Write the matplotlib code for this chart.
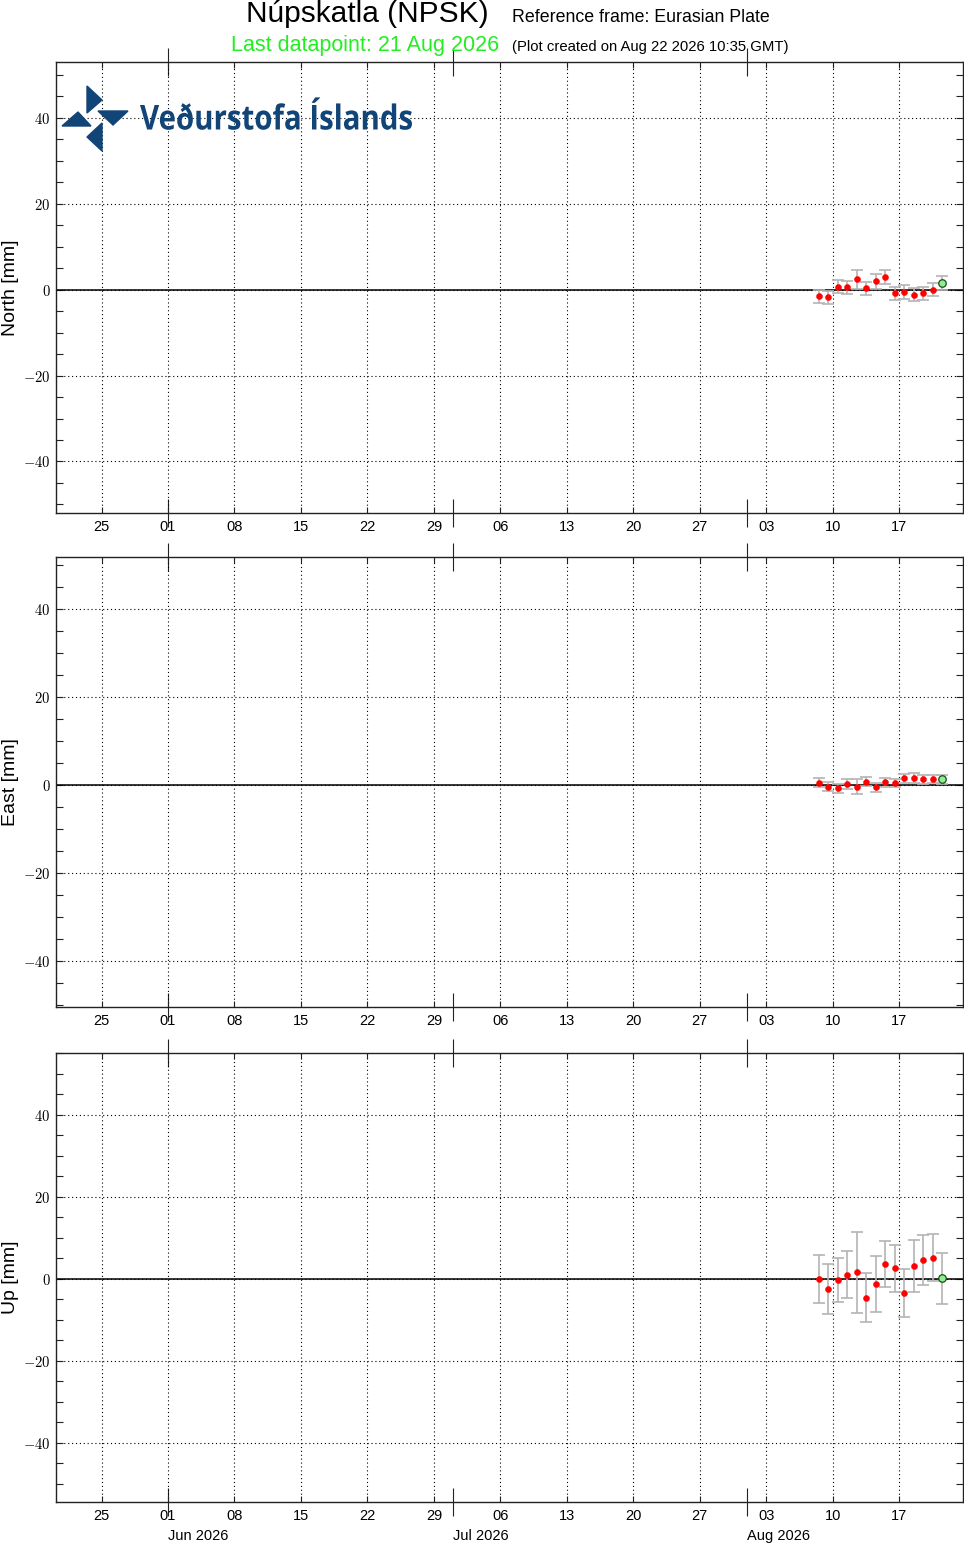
import matplotlib
matplotlib.use("Agg")
import matplotlib.pyplot as plt
import matplotlib.dates as mdates
from matplotlib.patches import Polygon, PathPatch
from matplotlib.textpath import TextPath
from matplotlib.font_manager import FontProperties
from matplotlib.transforms import Affine2D
from matplotlib.ticker import MultipleLocator, FuncFormatter
from datetime import datetime

plt.rcParams['mathtext.fontset'] = 'cm'
plt.rcParams['font.family'] = ['Liberation Sans', 'DejaVu Sans']

# ---- data ----
dates = [datetime(2026, 8, d, 12) for d in range(8, 22)]
north = [-1.5, -1.8, 0.7, 0.6, 2.4, 0.3, 1.9, 2.9, -0.85, -0.55, -1.15, -0.8, 0.0, 1.6]
north_err = [1.5, 1.6, 1.5, 1.5, 2.2, 1.5, 1.8, 1.6, 1.5, 1.6, 1.6, 1.5, 1.5, 1.6]
east = [0.45, -0.4, -0.75, 0.25, -0.45, 0.7, -0.6, 0.55, 0.4, 1.45, 1.6, 1.3, 1.35, 1.3]
east_err = [1.0, 1.0, 1.0, 1.1, 1.7, 1.0, 1.1, 1.1, 1.0, 1.1, 1.1, 1.0, 1.0, 1.0]
up = [0.0, -2.4, -0.25, 1.05, 1.6, -4.6, -1.2, 3.65, 2.6, -3.4, 3.2, 4.55, 5.2, 0.15]
up_err = [5.9, 6.1, 5.4, 5.8, 9.8, 6.0, 6.8, 5.7, 5.7, 5.8, 6.3, 6.1, 5.7, 6.2]

labels = ["North [mm]", "East [mm]", "Up [mm]"]
ylims = [(-52, 53), (-50.5, 51.8), (-54.4, 55.1)]
month_labels = [(datetime(2026, 6, 1), "Jun 2026"), (datetime(2026, 7, 1), "Jul 2026"),
                (datetime(2026, 8, 1), "Aug 2026")]
xlim = (datetime(2026, 5, 20, 5), datetime(2026, 8, 23, 17))

W, H = 964, 1546
fig = plt.figure(figsize=(W / 100, H / 100), dpi=100)

def fx(px):
    return px / W

def fy(py):
    return 1 - py / H

panels = [(62, 513), (557, 1007), (1053, 1502)]
series = [(north, north_err), (east, east_err), (up, up_err)]
dotted = (0, (1, 2.5))
ecol = '#b4b4b4'

for i, ((top, bot), (vals, errs)) in enumerate(zip(panels, series)):
    ax = fig.add_axes([fx(56), fy(bot), fx(963) - fx(56), fy(top) - fy(bot)])
    ax.set_xlim(*xlim)
    ax.set_ylim(*ylims[i])
    ax.axhline(0, color='black', lw=1.1, zorder=2)
    ax.errorbar(dates[:-1], vals[:-1], yerr=errs[:-1], fmt='none',
                ecolor=ecol, elinewidth=1.2, capsize=4, capthick=1.2, zorder=3)
    ax.plot(dates[:-1], vals[:-1], 'o', color='red', ms=4.4, mec='red', mew=0.3, zorder=4)
    ax.errorbar(dates[-1:], vals[-1:], yerr=errs[-1:], fmt='none',
                ecolor=ecol, elinewidth=1.2, capsize=4, capthick=1.2, zorder=3)
    ax.plot(dates[-1:], vals[-1:], 'o', mfc='#90ee90', mec='#1a4a1a', ms=5.4, mew=0.9, zorder=5)

    ax.xaxis.set_major_locator(mdates.MonthLocator())
    ax.xaxis.set_major_formatter(FuncFormatter(lambda x, p: ""))
    ax.xaxis.set_minor_locator(mdates.WeekdayLocator(byweekday=mdates.MO))
    ax.xaxis.set_minor_formatter(mdates.DateFormatter('%d'))
    ax.xaxis.remove_overlapping_locs = False
    ax.tick_params(axis='x', which='major', direction='inout', length=20, width=0.8,
                   top=True, bottom=True, color='#222222')
    ax.tick_params(axis='x', which='minor', direction='in', length=4, width=0.8,
                   top=True, bottom=True, labelsize=10.5, pad=5, color='#222222')
    ax.yaxis.set_major_locator(MultipleLocator(20))
    ax.yaxis.set_minor_locator(MultipleLocator(5))
    ax.yaxis.set_major_formatter(FuncFormatter(lambda v, p: r'$%d$' % v))
    ax.tick_params(axis='y', which='both', direction='in', left=True, right=True,
                   length=5, width=0.8, labelsize=10.5, pad=4, color='#222222')
    ax.grid(which='minor', axis='x', color='black', lw=0.8, linestyle=dotted)
    ax.grid(which='major', axis='y', color='black', lw=0.8, linestyle=dotted)
    ax.grid(which='major', axis='x', visible=False)
    for s in ax.spines.values():
        s.set_color('#222222')
        s.set_linewidth(1.0)
    ax.set_ylabel(labels[i], fontsize=14)
    ax.yaxis.set_label_coords(-0.041, 0.5)

    if i == 2:
        for d, lab in month_labels:
            ax.text(mdates.date2num(d), -0.076, lab, transform=ax.get_xaxis_transform(),
                    ha='left', va='center', fontsize=10.5)

# ---- titles ----
fig.text(fx(367), fy(14), "Núpskatla (NPSK)", ha='center', va='center', fontsize=21.5)
fig.text(fx(512), fy(17), "Reference frame: Eurasian Plate", ha='left', va='center', fontsize=12.8)
fig.text(fx(365), fy(45), "Last datapoint: 21 Aug 2026", ha='center', va='center',
         fontsize=15.5, color='#22ee22')
fig.text(fx(512), fy(47), "(Plot created on Aug 22 2026 10:35 GMT)", ha='left', va='center',
         fontsize=10.7)

# ---- logo ----
logo_col = '#114477'
tris = [[(87, 86), (87, 113), (102, 100)],
        [(98, 111), (128, 111), (113, 125)],
        [(102, 123), (102, 151), (87, 137)],
        [(62, 126), (91, 126), (78, 112)]]
for t in tris:
    fig.patches.append(Polygon([(fx(x), fy(y)) for x, y in t], closed=True,
                               transform=fig.transFigure, color=logo_col, zorder=10))

fp = FontProperties(family=['Open Sans', 'DejaVu Sans'], weight='bold')
tp = TextPath((0, 0), "Veðurstofa Íslands", size=100, prop=fp)
cap = TextPath((0, 0), "V", size=100, prop=fp).get_extents()
ext = tp.get_extents()
sx = 272.0 / ext.width
sy = 24.5 / cap.height
tr = Affine2D().translate(-ext.x0, 0).scale(sx / W, sy / H).translate(fx(140), fy(129.5)) \
    + fig.transFigure
fig.patches.append(PathPatch(tp, transform=tr, color=logo_col, lw=0, zorder=10))

fig.savefig("out.png", dpi=100)
